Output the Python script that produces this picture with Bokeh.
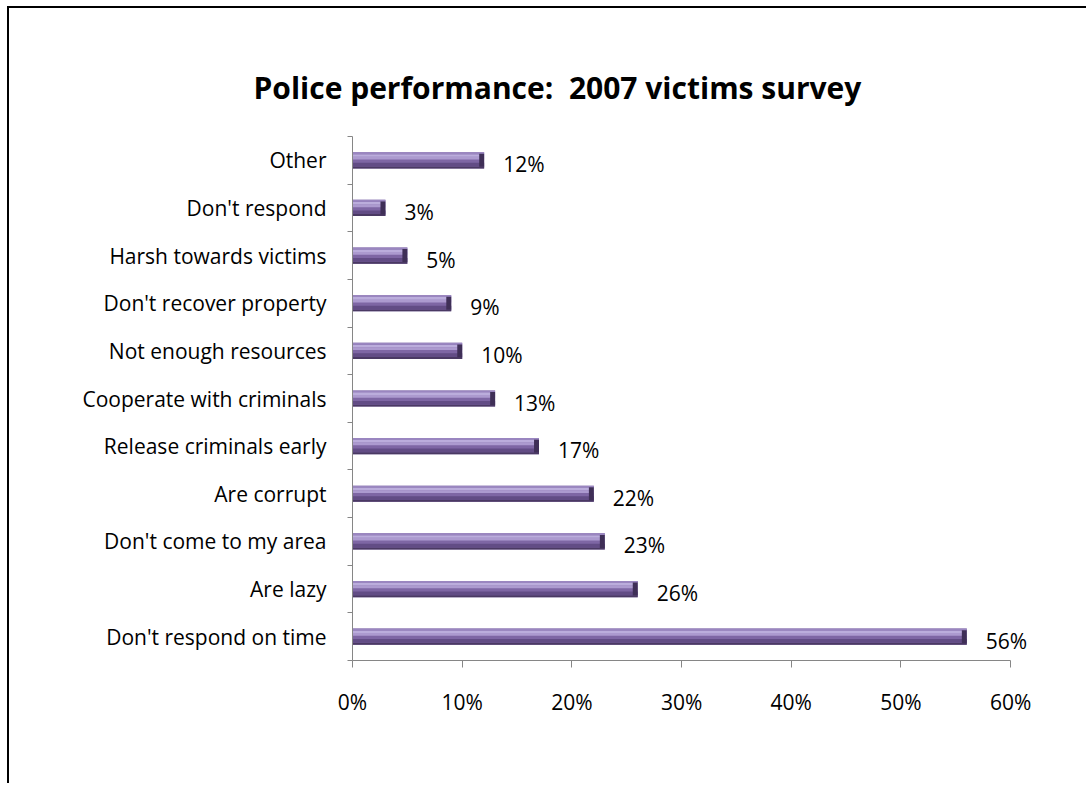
from bokeh.plotting import figure
from bokeh.models import Range1d, FixedTicker, LabelSet, ColumnDataSource
from bokeh.core.properties import value
from bokeh.embed import file_html
from bokeh.resources import INLINE

title = "Police performance:\u00a0 2007 victims survey"
categories = ["Don't respond on time", "Are lazy", "Don't come to my area", "Are corrupt",
              "Release criminals early", "Cooperate with criminals", "Not enough resources",
              "Don't recover property", "Harsh towards victims", "Don't respond", "Other"]
values = [56, 26, 23, 22, 17, 13, 10, 9, 5, 3, 12]
x_ticks = [0, 10, 20, 30, 40, 50, 60]

FONT = "Open Sans"
n = len(categories)
ys = [i + 0.5 for i in range(n)]
H = 0.34

p = figure(width=1079, height=777, output_backend="svg", toolbar_location=None,
           x_range=Range1d(0, 65), y_range=Range1d(0, n),
           min_border_left=343, min_border_right=23, min_border_top=128, min_border_bottom=125,
           margin=(6, 0, 0, 7),
           styles={"border-left": "2px solid black", "border-top": "2px solid black"})
p.grid.visible = False
p.outline_line_color = None

p.title.text = title
p.title.align = "left"
p.title.offset = -99
p.title.text_font = FONT
p.title.text_font_size = "30px"
p.title.text_font_style = "bold"
p.title.text_color = "#000000"
p.title.vertical_align = "bottom"
p.title.standoff = 58

def strip(frac_lo, frac_hi, color):
    src = ColumnDataSource(dict(y=[y - H / 2 + H * (frac_lo + frac_hi) / 2 for y in ys],
                                right=values))
    p.hbar(y="y", left=0, right="right", height=H * (frac_hi - frac_lo), source=src,
           fill_color=color, line_color=None)

strip(0.0, 1.0, "#7E66A4")
strip(0.0, 0.12, "#4A3963")
strip(0.12, 0.35, "#624C85")
strip(0.55, 0.72, "#AC9ACF")
strip(0.72, 0.88, "#BBADDC")
strip(0.88, 1.0, "#9A86C0")
cap = ColumnDataSource(dict(y=ys, left=[v - 0.45 for v in values], right=values))
p.hbar(y="y", left="left", right="right", height=H * 0.8, source=cap,
       fill_color="#3F2F57", line_color=None)

lab = ColumnDataSource(dict(x=values, y=ys, t=[f"{v}%" for v in values]))
p.add_layout(LabelSet(x="x", y="y", text="t", source=lab, x_offset=19, y_offset=-4,
                      text_baseline="middle", text_align="left", text_font=value(FONT),
                      text_font_size="21px", text_color="#000000"))

# y axis: labels at centers, ticks at boundaries
p.yaxis.ticker = FixedTicker(ticks=ys, minor_ticks=list(range(n + 1)))
p.yaxis.major_label_overrides = {y: c for y, c in zip(ys, categories)}
p.yaxis.major_tick_line_color = None
p.yaxis.minor_tick_line_color = "#868686"
p.yaxis.minor_tick_out = 5
p.yaxis.minor_tick_in = 0
p.yaxis.axis_line_color = "#868686"
p.yaxis.major_label_standoff = 20
p.yaxis.major_label_text_font = FONT
p.yaxis.major_label_text_font_size = "21px"
p.yaxis.major_label_text_color = "#000000"

p.xaxis.bounds = (0, 60)
p.xaxis.ticker = FixedTicker(ticks=x_ticks, minor_ticks=[])
p.xaxis.major_label_overrides = {t: f"{t}%" for t in x_ticks}
p.xaxis.axis_line_color = "#868686"
p.xaxis.major_tick_line_color = "#868686"
p.xaxis.major_tick_out = 7
p.xaxis.major_tick_in = 0
p.xaxis.major_label_standoff = 20
p.xaxis.major_label_text_font = FONT
p.xaxis.major_label_text_font_size = "21px"
p.xaxis.major_label_text_color = "#000000"

open("out.html", "w").write(file_html(p, INLINE))
